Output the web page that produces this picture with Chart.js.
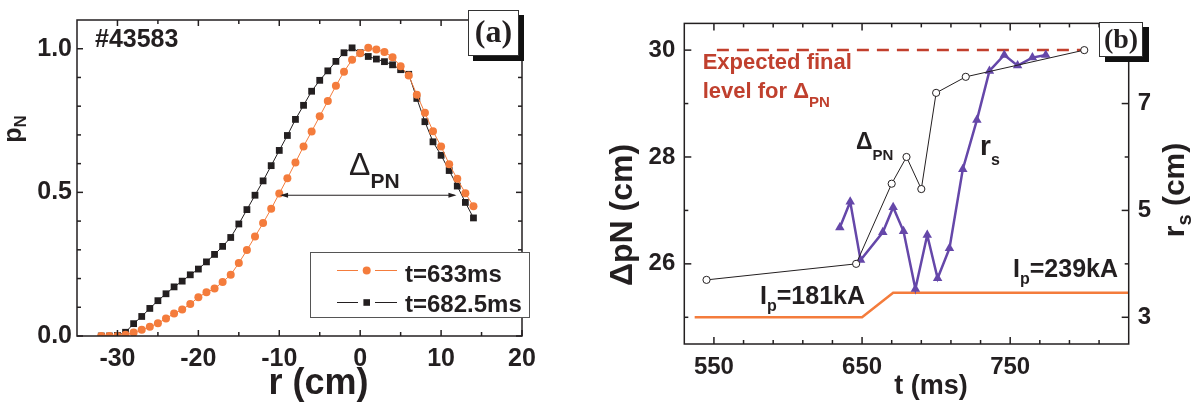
<!DOCTYPE html>
<html><head><meta charset="utf-8">
<script src="https://cdn.jsdelivr.net/npm/chart.js@4.4.1/dist/chart.umd.min.js"></script>
<style>
html,body{margin:0;padding:0;background:#fff;overflow:hidden}
#wa{position:absolute;left:0;top:0;width:560px;height:406px}
#wb{position:absolute;left:560px;top:0;width:634px;height:406px}
</style></head><body>
<div id="wa"><canvas id="ca" width="560" height="406"></canvas></div>
<div id="wb"><canvas id="cb" width="634" height="406"></canvas></div>
<script>
// ---------- Panel (a) data ----------
const rPos = [-32,-31,-30,-29,-28,-27,-26,-25,-24,-23,-22,-21,-20,-19,-18,-17,-16,-15,-14,-13,-12,-11,-10,-9,-8,-7,-6,-5,-4,-3,-2,-1,0,1,2,3,4,5,6,7,8,9,10,11,12,13,14];
const p633 = [0.0,0.0,0.0,0.004,0.012,0.022,0.032,0.044,0.061,0.078,0.092,0.111,0.135,0.152,0.165,0.188,0.213,0.254,0.299,0.346,0.393,0.443,0.496,0.549,0.604,0.660,0.712,0.765,0.818,0.871,0.920,0.962,0.984,1.003,0.997,0.989,0.970,0.939,0.907,0.840,0.777,0.713,0.660,0.598,0.547,0.497,0.452];
const p682 = [0.0,0.0,0.002,0.013,0.043,0.068,0.096,0.123,0.147,0.171,0.191,0.213,0.233,0.258,0.284,0.312,0.343,0.390,0.440,0.490,0.540,0.593,0.646,0.698,0.754,0.803,0.852,0.890,0.923,0.956,0.986,1.003,0.986,0.973,0.964,0.955,0.944,0.927,0.911,0.827,0.746,0.676,0.629,0.576,0.522,0.465,0.411];
const seriesA = ['t=633ms','t=682.5ms'];
const xMajorA = [-30,-20,-10,0,10,20];
const xMinorA = [-25,-15,-5,5,15];
const yMajorA = [0,0.5,1.0];
const yMinorA = [0.1,0.2,0.3,0.4,0.6,0.7,0.8,0.9];
const deltaArrowA = [-9.9, 11.9]; // r-range of the Delta_PN arrow
const deltaArrowLevel = 0.49;

// ---------- Panel (b) data ----------
const tDelta = [545,646,670,680,690,700,720,800];
const deltaPN = [25.7,26.0,27.5,28.0,27.4,29.2,29.5,30.0];
const tRs = [635,642,649,664,671,678,686,694,701,709,718,727.5,736,746,755,765,774];
const rsVal = [4.68,5.16,4.07,4.59,5.06,4.61,3.53,4.54,3.73,4.29,5.77,6.69,7.61,7.91,7.71,7.86,7.91];
const tIp = [537,650,671,830];
const ipLevel = [3.0,3.0,3.46,3.46];
const tExpected = [552,800];
const expectedLevel = [30,30];
const xMajorB = [550,650,750];
const xMinorB = [570,590,610,630,670,690,710,730,770,790,810];
const yMajorB = [26,28,30];
const yMinorB = [25,27,29];
const y2MajorB = [3,5,7];
const y2MinorB = [4,6,8];

// ---------- styling ----------
const SANS = '"Liberation Sans", Arial, Helvetica, sans-serif';
const SERIF = '"Liberation Serif", "Times New Roman", serif';
const INK = '#231f20';
const ORANGE = '#f47c3c';
const PURPLE = '#6547a9';
const RED = '#c23f2c';
const RED_TXT = '#c0402e';

function rich(ctx, x, y, parts, opts) {
  opts = opts || {};
  ctx.save();
  ctx.translate(x, y);
  if (opts.rot) ctx.rotate(opts.rot);
  ctx.textBaseline = 'alphabetic';
  let w = 0;
  parts.forEach(p => { ctx.font = p.font; p.w = ctx.measureText(p.t).width; w += p.w; });
  let cx = opts.align === 'center' ? -w / 2 : 0;
  parts.forEach(p => { ctx.font = p.font; ctx.fillStyle = p.color || INK; ctx.fillText(p.t, cx, p.dy || 0); cx += p.w; });
  ctx.restore();
}
function f(size, weight, fam) { return (weight || 'bold') + ' ' + size + 'px ' + (fam || SANS); }

function frameAndTicks(chart, sp) {
  const {ctx, chartArea: a} = chart;
  ctx.save();
  ctx.strokeStyle = INK; ctx.lineWidth = 1.5;
  const seg = (x1, y1, x2, y2) => { ctx.beginPath(); ctx.moveTo(x1, y1); ctx.lineTo(x2, y2); ctx.stroke(); };
  const xs = chart.scales.x;
  const doX = (vals, len) => vals.forEach(v => { const px = xs.getPixelForValue(v); seg(px, a.bottom, px, a.bottom - len); seg(px, a.top, px, a.top + len); });
  doX(sp.xMajor, sp.maj); doX(sp.xMinor, sp.min);
  const ys = chart.scales.y;
  const doY = (vals, len, right) => vals.forEach(v => { const py = ys.getPixelForValue(v); seg(a.left, py, a.left + len, py); if (right) seg(a.right, py, a.right - len, py); });
  doY(sp.yMajor, sp.maj, sp.mirrorY); doY(sp.yMinor, sp.min, sp.mirrorY);
  if (sp.y2Major) {
    const y2 = chart.scales.y2;
    sp.y2Major.forEach(v => { const py = y2.getPixelForValue(v); seg(a.right, py, a.right - sp.maj, py); });
    sp.y2Minor.forEach(v => { const py = y2.getPixelForValue(v); seg(a.right, py, a.right - sp.min, py); });
  }
  ctx.strokeRect(a.left, a.top, a.right - a.left, a.bottom - a.top);
  ctx.restore();
}

function labelBox(ctx, x, y, w, h, sh, text, size) {
  ctx.save();
  ctx.fillStyle = '#111';
  ctx.fillRect(x + sh[0], y + sh[1], w, h);
  ctx.fillStyle = '#fff';
  ctx.fillRect(x, y, w, h);
  ctx.strokeStyle = '#333'; ctx.lineWidth = 1;
  ctx.strokeRect(x + 0.5, y + 0.5, w - 1, h - 1);
  ctx.fillStyle = INK; ctx.font = f(size, 'bold', SERIF);
  ctx.textAlign = 'center'; ctx.textBaseline = 'middle';
  ctx.fillText(text, x + w / 2, y + h / 2 + 1);
  ctx.restore();
}

const decorA = {
  id: 'decorA',
  afterDraw(chart) {
    const ctx = chart.ctx;
    frameAndTicks(chart, {xMajor: xMajorA, xMinor: xMinorA, yMajor: yMajorA, yMinor: yMinorA, maj: 6, min: 4, mirrorY: true});
    const xs = chart.scales.x, ys = chart.scales.y;
    // Delta_PN arrow
    const x1 = xs.getPixelForValue(deltaArrowA[0]), x2 = xs.getPixelForValue(deltaArrowA[1]);
    const yy = ys.getPixelForValue(deltaArrowLevel);
    ctx.save();
    ctx.strokeStyle = INK; ctx.fillStyle = INK; ctx.lineWidth = 1;
    ctx.beginPath(); ctx.moveTo(x1 + 2, yy); ctx.lineTo(x2 - 2, yy); ctx.stroke();
    [[x1, 1], [x2, -1]].forEach(([x, d]) => { ctx.beginPath(); ctx.moveTo(x, yy); ctx.lineTo(x + 8 * d, yy - 2.5); ctx.lineTo(x + 8 * d, yy + 2.5); ctx.closePath(); ctx.fill(); });
    ctx.restore();
    rich(ctx, 349, 175, [{t: '\u0394', font: f(32, 'normal')}, {t: 'PN', font: f(21), dy: 13}]);
    // shot number
    rich(ctx, 95, 46.5, [{t: '#43583', font: f(25)}]);
    // axis titles
    rich(ctx, 20.5, 129, [{t: 'p', font: f(25)}, {t: 'N', font: f(17), dy: 5}], {rot: -Math.PI / 2, align: 'center'});
    rich(ctx, 318.5, 394, [{t: 'r (cm)', font: f(36)}], {align: 'center'});
    // legend
    ctx.save();
    ctx.fillStyle = '#fff'; ctx.fillRect(310, 252, 219, 65);
    ctx.strokeStyle = '#555'; ctx.lineWidth = 1; ctx.strokeRect(310.5, 252.5, 219, 65);
    const ds = chart.data.datasets;
    [[270.5, 281.5], [302.5, 311.5]].forEach(([ly, tb], i) => {
      const d = ds[i];
      ctx.strokeStyle = d.borderColor; ctx.lineWidth = 1;
      ctx.beginPath(); ctx.moveTo(337, ly); ctx.lineTo(358, ly); ctx.moveTo(375, ly); ctx.lineTo(397, ly); ctx.stroke();
      ctx.fillStyle = d.pointBackgroundColor;
      ctx.beginPath();
      if (d.pointStyle === 'rect') ctx.rect(366.7 - 3.3, ly - 3.3, 6.6, 6.6); else ctx.arc(366.7, ly, 4, 0, Math.PI * 2);
      ctx.fill();
      ctx.fillStyle = INK; ctx.font = f(24); ctx.textBaseline = 'alphabetic';
      ctx.fillText(d.label, 405, tb);
    });
    ctx.restore();
    labelBox(ctx, 468, 10, 51, 46, [5, 5], '(a)', 32);
  }
};

const decorB = {
  id: 'decorB',
  afterDraw(chart) {
    const ctx = chart.ctx;
    frameAndTicks(chart, {xMajor: xMajorB, xMinor: xMinorB, yMajor: yMajorB, yMinor: yMinorB, y2Major: y2MajorB, y2Minor: y2MinorB, maj: 7, min: 4, mirrorY: false});
    const o = -560;
    rich(ctx, 702.7 + o, 68.5, [{t: 'Expected final', font: f(22), color: RED_TXT}]);
    rich(ctx, 702.7 + o, 98.3, [{t: 'level for \u0394', font: f(22), color: RED_TXT}, {t: 'PN', font: f(15), dy: 9, color: RED_TXT}]);
    rich(ctx, 856 + o, 148.5, [{t: '\u0394', font: f(23)}, {t: 'PN', font: f(15), dy: 11}]);
    rich(ctx, 980 + o, 155, [{t: 'r', font: f(28)}, {t: 's', font: f(16), dy: 10}]);
    rich(ctx, 760 + o, 304, [{t: 'I', font: f(25)}, {t: 'p', font: f(16), dy: 7}, {t: '=181kA', font: f(25)}]);
    rich(ctx, 1013 + o, 276.7, [{t: 'I', font: f(25)}, {t: 'p', font: f(16), dy: 7}, {t: '=239kA', font: f(25)}]);
    // axis titles
    rich(ctx, 931 + o, 394, [{t: 't (ms)', font: f(27)}], {align: 'center'});
    rich(ctx, 632 + o, 215, [{t: '\u0394', font: f(32)}, {t: 'pN (cm)', font: f(32)}], {rot: -Math.PI / 2, align: 'center'});
    rich(ctx, 1184 + o, 190, [{t: 'r', font: f(30)}, {t: 's', font: f(20), dy: 7}, {t: ' (cm)', font: f(30)}], {rot: -Math.PI / 2, align: 'center'});
    labelBox(ctx, 1099 + o, 22, 44, 35, [6, 5], '(b)', 28);
  }
};

const tickFontA = {family: SANS, size: 25, weight: 'bold'};
const tickFontB = {family: SANS, size: 24, weight: 'bold'};

new Chart(document.getElementById('ca'), {
  type: 'line',
  data: {datasets: [
    {label: seriesA[0], data: rPos.map((r, i) => ({x: r, y: p633[i]})), borderColor: ORANGE, borderWidth: 1,
     pointStyle: 'circle', pointRadius: 4, pointBorderWidth: 0, pointBackgroundColor: ORANGE, tension: 0},
    {label: seriesA[1], data: rPos.map((r, i) => ({x: r, y: p682[i]})), borderColor: INK, borderWidth: 1,
     pointStyle: 'rect', pointRadius: 4.8, pointBorderWidth: 0, pointBackgroundColor: INK, tension: 0}
  ]},
  options: {
    responsive: false, animation: false, devicePixelRatio: 1,
    layout: {padding: {top: 10, right: 38, left: 0, bottom: 0}},
    plugins: {legend: {display: false}, tooltip: {enabled: false}},
    scales: {
      x: {type: 'linear', min: -35, max: 20,
          grid: {display: false, drawTicks: false}, border: {display: false},
          ticks: {font: tickFontA, color: INK, padding: 8, callback: v => String(v)},
          afterBuildTicks: s => { s.ticks = xMajorA.map(v => ({value: v})); },
          afterFit: s => { s.height = 70; }},
      y: {type: 'linear', min: 0, max: 1.1,
          grid: {display: false, drawTicks: false}, border: {display: false},
          ticks: {font: tickFontA, color: INK, padding: 5, callback: v => Number(v).toFixed(1)},
          afterBuildTicks: s => { s.ticks = yMajorA.map(v => ({value: v})); },
          afterFit: s => { s.width = 77; }}
    }
  },
  plugins: [decorA]
});

new Chart(document.getElementById('cb'), {
  type: 'line',
  data: {datasets: [
    {label: 'Delta_PN', data: tDelta.map((t, i) => ({x: t, y: deltaPN[i]})), yAxisID: 'y', borderColor: INK, borderWidth: 1,
     pointStyle: 'circle', pointRadius: 3.6, pointBorderWidth: 1, pointBorderColor: INK, pointBackgroundColor: '#fff', tension: 0},
    {label: 'r_s', data: tRs.map((t, i) => ({x: t, y: rsVal[i]})), yAxisID: 'y2', borderColor: PURPLE, borderWidth: 2.5,
     pointStyle: 'triangle', pointRadius: 5.5, pointBorderWidth: 0, pointBackgroundColor: PURPLE, tension: 0},
    {label: 'expected', data: tExpected.map((t, i) => ({x: t, y: expectedLevel[i]})), yAxisID: 'y', borderColor: RED, borderWidth: 2.5,
     borderDash: [12, 8], pointRadius: 0, tension: 0},
    {label: 'Ip', data: tIp.map((t, i) => ({x: t, y: ipLevel[i]})), yAxisID: 'y2', borderColor: ORANGE, borderWidth: 2.5,
     pointRadius: 0, tension: 0}
  ]},
  options: {
    responsive: false, animation: false, devicePixelRatio: 1,
    layout: {padding: {top: 17, right: 0, left: 0, bottom: 0}},
    plugins: {legend: {display: false}, tooltip: {enabled: false}},
    scales: {
      x: {type: 'linear', min: 530, max: 830,
          grid: {display: false, drawTicks: false}, border: {display: false},
          ticks: {font: tickFontB, color: INK, padding: 9, callback: v => String(v)},
          afterBuildTicks: s => { s.ticks = xMajorB.map(v => ({value: v})); },
          afterFit: s => { s.height = 62; }},
      y: {type: 'linear', position: 'left', min: 24.5, max: 30.5,
          grid: {display: false, drawTicks: false}, border: {display: false},
          ticks: {font: tickFontB, color: INK, padding: 9, callback: v => String(v)},
          afterBuildTicks: s => { s.ticks = yMajorB.map(v => ({value: v})); },
          afterFit: s => { s.width = 124.3; }},
      y2: {type: 'linear', position: 'right', min: 2.5, max: 8.5,
          grid: {display: false, drawTicks: false}, border: {display: false},
          ticks: {font: tickFontB, color: INK, padding: 9, callback: v => String(v)},
          afterBuildTicks: s => { s.ticks = y2MajorB.map(v => ({value: v})); },
          afterFit: s => { s.width = 65.3; }}
    }
  },
  plugins: [decorB]
});
</script>
</body></html>
